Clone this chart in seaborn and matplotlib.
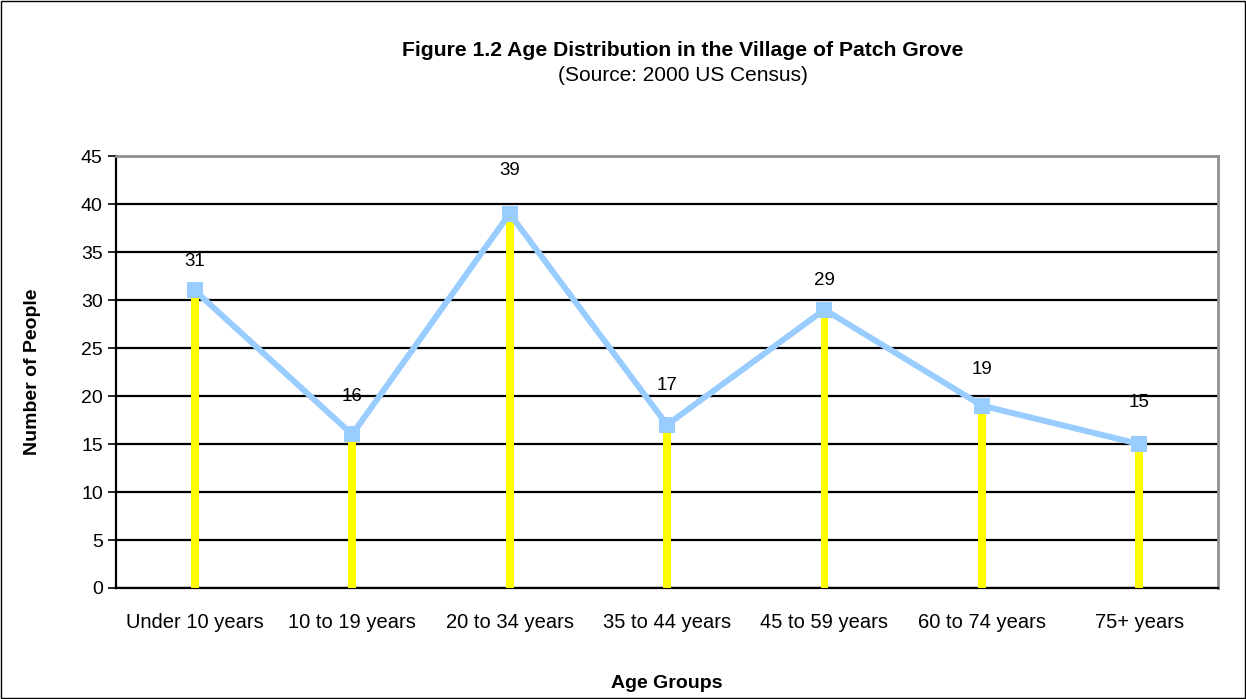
import matplotlib
matplotlib.use("Agg")
import matplotlib.pyplot as plt
import seaborn as sns
import pandas as pd
from matplotlib.patches import Rectangle

# 데이터
age_groups = ["Under 10 years", "10 to 19 years", "20 to 34 years", "35 to 44 years",
              "45 to 59 years", "60 to 74 years", "75+ years"]
people = [31, 16, 39, 17, 29, 19, 15]
# 라벨 위치 (포인트 단위, 위쪽 여백)
label_offsets = [21, 27, 31, 28, 21, 26, 30]

sns.set_style("white")
plt.rcParams["font.family"] = ["Liberation Sans", "DejaVu Sans"]
plt.rcParams["text.color"] = "black"
plt.rcParams["axes.labelcolor"] = "black"
plt.rcParams["xtick.color"] = "black"
plt.rcParams["ytick.color"] = "black"

df = pd.DataFrame({"group": age_groups, "people": people})

fig = plt.figure(figsize=(12.46, 6.99), dpi=100)
ax = fig.add_axes([0.0931, 0.1588, 0.8845, 0.618])

# 노란 세로선 (막대)
sns.barplot(data=df, x="group", y="people", color="#FFFF00", width=0.05,
            saturation=1, ax=ax, zorder=3)
for p in ax.patches:
    p.set_edgecolor("none")

# 하늘색 선 + 사각형 마커
sns.lineplot(data=df, x="group", y="people", color="#99CCFF", linewidth=4.3,
             marker="s", markersize=11, markeredgewidth=0, sort=False, ax=ax, zorder=4)

for i, v in enumerate(people):
    ax.annotate(str(v), (i, v), xytext=(0, label_offsets[i]), textcoords="offset points",
                ha="center", va="center", fontsize=13.5)

ax.set_xlim(-0.5, len(age_groups) - 0.5)
ax.set_ylim(0, 45)
ax.set_yticks(range(0, 46, 5))
ax.yaxis.grid(True, color="black", linewidth=1.6, zorder=0)
ax.set_axisbelow(True)
ax.set_xticks(range(len(age_groups)))
ax.set_xticklabels(age_groups, fontsize=14.5)
ax.tick_params(axis="x", length=0, pad=18)
ax.set_xticks([i - 0.5 for i in range(len(age_groups) + 1)], minor=True)
ax.tick_params(axis="x", which="minor", length=6, width=1.5, color="black", direction="out")
ax.tick_params(axis="y", length=6, width=1.2, color="black", direction="out",
               labelsize=14, left=True)

for s in ["left", "bottom"]:
    ax.spines[s].set_color("black")
    ax.spines[s].set_linewidth(1.6)
for s in ["top", "right"]:
    ax.spines[s].set_color("#909090")
    ax.spines[s].set_linewidth(2)

ax.set_xlabel("Age Groups", fontsize=14, fontweight="bold", labelpad=31)
ax.set_ylabel("Number of People", fontsize=14, fontweight="bold", labelpad=29)

fig.text(0.548, 0.928, "Figure 1.2 Age Distribution in the Village of Patch Grove",
         ha="center", va="center", fontsize=15.2, fontweight="bold")
fig.text(0.548, 0.892, "(Source: 2000 US Census)", ha="center", va="center", fontsize=15)

fig.patches.append(Rectangle((0.001, 0.001), 0.998, 0.997, transform=fig.transFigure,
                             fill=False, edgecolor="black", linewidth=1))

fig.savefig("out.png", dpi=100)
